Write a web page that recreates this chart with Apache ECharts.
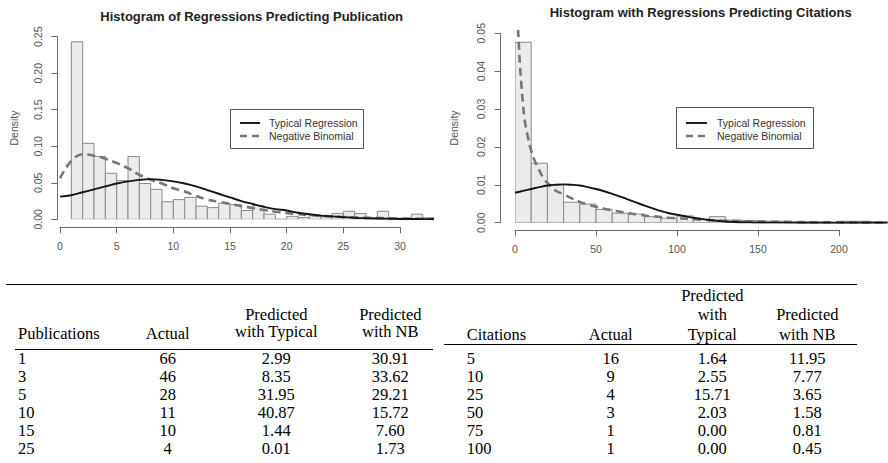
<!DOCTYPE html>
<html>
<head>
<meta charset="utf-8">
<script src="https://cdn.jsdelivr.net/npm/echarts@6/dist/echarts.min.js"></script>
<style>
html,body{margin:0;padding:0;background:#fff;}
#chart{width:888px;height:463px;}
</style>
</head>
<body>
<div id="chart"></div>
<script>
// ---------------- DATA ----------------
// Left histogram: publications (bin width 1)
const pubBinStarts = [1,2,3,4,5,6,7,8,9,10,11,12,13,14,15,16,17,18,19,20,21,22,23,24,25,26,27,28,29,30,31,32];
const pubDensity   = [0.243,0.104,0.086,0.063,0.053,0.086,0.049,0.041,0.024,0.027,0.030,0.018,0.016,0.022,0.020,0.012,0.019,0.007,0,0.004,0.0025,0.006,0.0035,0.008,0.011,0.008,0.002,0.011,0.0015,0.0015,0.007,0.002];
const pubBinWidth = 1;
const pubCurveX = [0,1,2,3,4,5,6,7,8,9,10,11,12,13,14,15,16,17,18,19,20,21,22,23,24,25,26,27,28,29,30,31,32,33];
const pubTypicalY = [0.031,0.033,0.037,0.041,0.045,0.049,0.052,0.054,0.055,0.054,0.052,0.049,0.045,0.040,0.035,0.030,0.025,0.021,0.017,0.014,0.012,0.009,0.007,0.005,0.004,0.003,0.002,0.0015,0.001,0.0008,0.0005,0.0004,0.0003,0.0002];
const pubNBY = [0.056,0.080,0.089,0.087,0.083,0.077,0.070,0.061,0.054,0.049,0.0425,0.038,0.032,0.027,0.024,0.021,0.018,0.0155,0.0127,0.0104,0.0086,0.007,0.0058,0.0048,0.004,0.0032,0.0026,0.0021,0.0017,0.0014,0.0011,0.0009,0.0007,0.0006];
const pubXTicks = [0, 30, 5];      // min, max, interval
const pubYTicks = [0, 0.25, 0.05];

// Right histogram: citations (bin width 10)
const citBinStarts = [0,10,20,30,40,50,60,70,80,90,100,110,120,130,140,150,160,170,180,190,200,210,220];
const citDensity   = [0.0476,0.0157,0.0101,0.0054,0.0049,0.0035,0.0025,0.0023,0.0016,0.0012,0.0018,0.0009,0.0016,0.0007,0.0006,0.0004,0.0004,0.0002,0.0002,0,0.0004,0.0004,0.0002];
const citBinWidth = 10;
const citTypX = [0,5,10,15,20,25,30,35,40,45,50,55,60,65,70,75,80,85,90,95,100,105,110,115,120,125,130,135,140,145,150,160,170,180,200,230];
const citTypY = [0.0079,0.0084,0.0089,0.0094,0.0098,0.0100,0.0101,0.0100,0.0098,0.0094,0.0089,0.0083,0.0076,0.0069,0.0061,0.0053,0.0045,0.0038,0.0031,0.0025,0.0021,0.0017,0.0013,0.0010,0.0007,0.0005,0.0003,0.0002,0.00012,0.00008,0.00005,0.00002,0.00001,0,0,0];
const citNBX = [1,2,3,4,5,6,8,10,12.5,15,17.5,20,25,30,35,40,45,50,55,60,65,70,75,80,85,90,95,100,110,120,130,140,150,160,170,180,190,200,215,230];
const citNBY = [0.058,0.050,0.042,0.036,0.031,0.027,0.0225,0.019,0.016,0.0138,0.0118,0.0105,0.0085,0.0075,0.0064,0.0055,0.0048,0.0042,0.0037,0.0033,0.0029,0.0025,0.0022,0.0019,0.0017,0.0015,0.0013,0.0012,0.0009,0.0007,0.0005,0.0004,0.0003,0.00025,0.0002,0.00015,0.00012,0.0001,0.00008,0.00006];
const citXTicks = [0, 200, 50];
const citYTicks = [0, 0.05, 0.01];

const titleLeft = 'Histogram of Regressions Predicting Publication';
const titleRight = 'Histogram with Regressions Predicting Citations';
const seriesNames = ['Typical Regression', 'Negative Binomial'];
const yName = 'Density';

// Tables
const pubHeader = ['Publications', 'Actual', ['Predicted', 'with Typical'], ['Predicted', 'with NB']];
const pubRows     = ['1','3','5','10','15','25'];
const pubActual   = ['66','46','28','11','10','4'];
const pubTypical  = ['2.99','8.35','31.95','40.87','1.44','0.01'];
const pubNB       = ['30.91','33.62','29.21','15.72','7.60','1.73'];
const citHeader = ['Citations', 'Actual', ['Predicted', 'with', 'Typical'], ['Predicted', 'with NB']];
const citRows     = ['5','10','25','50','75','100'];
const citActual   = ['16','9','4','3','1','1'];
const citTypical  = ['1.64','2.55','15.71','2.03','0.00','0.00'];
const citNB       = ['11.95','7.77','3.65','1.58','0.81','0.45'];

// ---------------- STYLE / LAYOUT ----------------
const SANS = '"Liberation Sans", Arial, sans-serif';
const SERIF = '"Liberation Serif", "Times New Roman", serif';
const axisColor = '#6a6a6a';
const labelColor = '#555';
const smallFont = 10.5;
const solidStyle = { color: '#141414', width: 1.9 };
const dashStyle = { color: '#767676', width: 2.6, dash: [8, 5] };

function zip(a, b) { return a.map((v, i) => [v, b[i]]); }

function histSeries(starts, dens, w, xi, yi) {
  return {
    type: 'custom',
    xAxisIndex: xi, yAxisIndex: yi,
    data: starts.map((s, i) => [s, dens[i], s + w]),
    renderItem: function (params, api) {
      const p0 = api.coord([api.value(0), api.value(1)]);
      const p1 = api.coord([api.value(2), 0]);
      return {
        type: 'rect',
        shape: { x: p0[0], y: p0[1], width: p1[0] - p0[0], height: p1[1] - p0[1] },
        style: { fill: '#ebebeb', stroke: '#8a8a8a', lineWidth: 1 }
      };
    },
    clip: true, silent: true, z: 1
  };
}
function lineSeries(name, xs, ys, xi, yi, dashed) {
  const st = dashed ? dashStyle : solidStyle;
  return {
    type: 'line', name: name, xAxisIndex: xi, yAxisIndex: yi,
    data: zip(xs, ys), smooth: 0.4, symbol: 'none', clip: true, silent: true,
    lineStyle: dashed ? { color: st.color, width: st.width, type: st.dash } : { color: st.color, width: st.width },
    itemStyle: { color: st.color },
    z: dashed ? 3 : 4
  };
}
function shownX(grid, t) {
  return {
    gridIndex: grid, type: 'value', min: t[0], max: t[1], interval: t[2],
    axisLine: { show: true, lineStyle: { color: axisColor, width: 1 } },
    axisTick: { show: true, length: 6, lineStyle: { color: axisColor } },
    axisLabel: { margin: 13, color: labelColor, fontSize: smallFont, fontFamily: SANS },
    splitLine: { show: false }
  };
}
function shownY(grid, t, gap, nameGap) {
  return {
    gridIndex: grid, type: 'value', min: t[0], max: t[1], interval: t[2], position: 'left',
    axisLine: { show: true, lineStyle: { color: axisColor, width: 1 } },
    axisTick: { show: true, length: 6, lineStyle: { color: axisColor } },
    axisLabel: { margin: gap, rotate: 90, color: labelColor, fontSize: smallFont, fontFamily: SANS,
      formatter: v => v.toFixed(2) },
    splitLine: { show: false },
    name: yName, nameLocation: 'middle', nameRotate: 90, nameGap: nameGap,
    nameTextStyle: { color: labelColor, fontSize: smallFont, fontFamily: SANS }
  };
}
function hidden(grid, min, max) {
  const a = { gridIndex: grid, type: 'value', show: false, splitLine: { show: false } };
  if (min !== undefined) { a.min = min; a.max = max; }
  return a;
}

// ---------------- GRAPHICS (titles, legends, tables) ----------------
const graphics = [];
function txt(x, y, s, align, font, weight, color) {
  graphics.push({ type: 'text', x: x, y: y, silent: true,
    style: { text: s, align: align, verticalAlign: 'middle', fill: color || '#000',
      font: (weight || 'normal') + ' ' + font } });
}
function hline(x1, x2, y, stroke, width, dash) {
  const st = { stroke: stroke || '#000', lineWidth: width || 1 };
  if (dash) st.lineDash = dash;
  graphics.push({ type: 'line', silent: true, shape: { x1: x1, y1: y, x2: x2, y2: y }, style: st, z: 10 });
}
function legendBox(x1, y1, x2, y2, lineX1, lineX2, textX) {
  graphics.push({ type: 'rect', silent: true, shape: { x: x1, y: y1, width: x2 - x1, height: y2 - y1 },
    style: { fill: '#fff', stroke: '#555', lineWidth: 1 }, z: 9 });
  hline(lineX1, lineX2, 123, solidStyle.color, solidStyle.width);
  hline(lineX1, lineX2, 136, dashStyle.color, dashStyle.width, [7, 5]);
  graphics.push({ type: 'text', x: textX, y: 123, silent: true, z: 10,
    style: { text: seriesNames[0], align: 'left', verticalAlign: 'middle', fill: '#333', font: smallFont + 'px ' + SANS } });
  graphics.push({ type: 'text', x: textX, y: 136, silent: true, z: 10,
    style: { text: seriesNames[1], align: 'left', verticalAlign: 'middle', fill: '#333', font: smallFont + 'px ' + SANS } });
}
txt(251.7, 16, titleLeft, 'center', '13px ' + SANS, 'bold', '#222');
txt(700.7, 12.5, titleRight, 'center', '13px ' + SANS, 'bold', '#222');
legendBox(230.5, 109.5, 363.5, 148.5, 240, 260, 269);
legendBox(676.5, 107.5, 813.5, 148.5, 686, 707, 717);

const tFont = '16.5px ' + SERIF;
const rowY0 = 358.3, rowStep = 18;
hline(6, 857, 284.5);
hline(15, 433, 349.5);
hline(444, 857, 344.5);
// left table header
txt(18, 333, pubHeader[0], 'left', tFont);
txt(167.7, 333, pubHeader[1], 'center', tFont);
txt(276.3, 314.3, pubHeader[2][0], 'center', tFont);
txt(276.3, 331.7, pubHeader[2][1], 'center', tFont);
txt(390.3, 314.3, pubHeader[3][0], 'center', tFont);
txt(390.3, 331.7, pubHeader[3][1], 'center', tFont);
pubRows.forEach((r, i) => {
  const y = rowY0 + i * rowStep;
  txt(18, y, r, 'left', tFont);
  txt(167.7, y, pubActual[i], 'center', tFont);
  txt(276.3, y, pubTypical[i], 'center', tFont);
  txt(390.3, y, pubNB[i], 'center', tFont);
});
// right table header
txt(466.7, 334, citHeader[0], 'left', tFont);
txt(610.7, 334, citHeader[1], 'center', tFont);
txt(712.3, 295, citHeader[2][0], 'center', tFont);
txt(712.3, 314.7, citHeader[2][1], 'center', tFont);
txt(712.3, 334, citHeader[2][2], 'center', tFont);
txt(807.3, 314.3, citHeader[3][0], 'center', tFont);
txt(807.3, 334, citHeader[3][1], 'center', tFont);
citRows.forEach((r, i) => {
  const y = rowY0 + i * rowStep;
  txt(466.7, y, r, 'left', tFont);
  txt(610.7, y, citActual[i], 'center', tFont);
  txt(712.3, y, citTypical[i], 'center', tFont);
  txt(807.3, y, citNB[i], 'center', tFont);
});

// ---------------- OPTION ----------------
const option = {
  animation: false,
  backgroundColor: '#fff',
  grid: [
    { left: 60, top: 36.7, width: 374, height: 182.6 },     // 0 left data
    { left: 60, top: 226.3, width: 340, height: 1 },         // 1 left x axis
    { left: 57.3, top: 36.7, width: 1, height: 182.6 },      // 2 left y axis
    { left: 515, top: 31.3, width: 372.6, height: 191.4 },   // 3 right data
    { left: 515, top: 229, width: 324, height: 1 },          // 4 right x axis
    { left: 500.7, top: 33.2, width: 1, height: 189.5 }      // 5 right y axis
  ],
  xAxis: [
    hidden(0, 0, 33),
    shownX(1, pubXTicks),
    hidden(2, 0, 1),
    hidden(3, 0, 230),
    shownX(4, citXTicks),
    hidden(5, 0, 1)
  ],
  yAxis: [
    hidden(0, 0, 0.25),
    hidden(1, 0, 1),
    shownY(2, pubYTicks, 14, 38),
    hidden(3, 0, 0.0505),
    hidden(4, 0, 1),
    shownY(5, citYTicks, 14, 41.5)
  ],
  series: [
    histSeries(pubBinStarts, pubDensity, pubBinWidth, 0, 0),
    lineSeries(seriesNames[1], pubCurveX, pubNBY, 0, 0, true),
    lineSeries(seriesNames[0], pubCurveX, pubTypicalY, 0, 0, false),
    histSeries(citBinStarts, citDensity, citBinWidth, 3, 3),
    lineSeries(seriesNames[1], citNBX, citNBY, 3, 3, true),
    lineSeries(seriesNames[0], citTypX, citTypY, 3, 3, false)
  ],
  graphic: graphics
};

const chart = echarts.init(document.getElementById('chart'), null, { renderer: 'svg', width: 888, height: 463 });
chart.setOption(option);
</script>
</body>
</html>
